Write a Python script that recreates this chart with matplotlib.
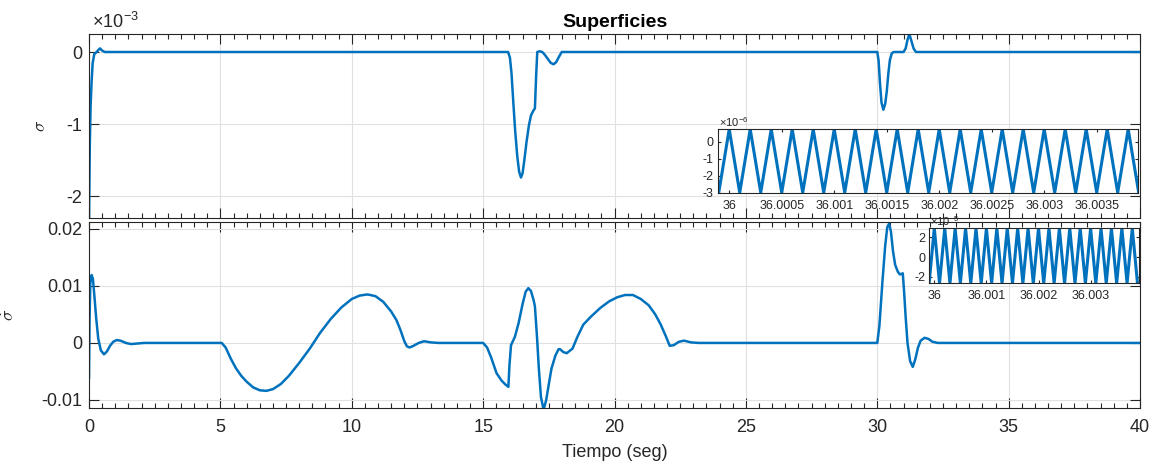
import matplotlib.pyplot as plt
from matplotlib.ticker import MultipleLocator

plt.rcParams['font.family'] = ['Liberation Sans', 'DejaVu Sans']
plt.rcParams['mathtext.fontset'] = 'cm'
plt.rcParams['axes.unicode_minus'] = False

# sigma (x 10^-3)
t_sig = [0.0, 0.03, 0.06, 0.1, 0.14, 0.2, 0.29, 0.36, 0.42, 0.5, 0.6,
         15.95, 16.02, 16.08, 16.15, 16.22, 16.3, 16.37, 16.44, 16.5, 16.56, 16.65, 16.74,
         16.82, 16.9, 16.97, 17.02, 17.06, 17.15, 17.25, 17.35, 17.45, 17.57, 17.68, 17.78,
         17.88, 17.99,
         30.0, 30.05, 30.1, 30.16, 30.23, 30.3, 30.36, 30.42, 30.48, 30.55, 30.62,
         31.0, 31.08, 31.15, 31.22, 31.3, 31.38, 31.47, 40.0]
sig = [-2.35, -1.3, -0.75, -0.4, -0.15, -0.03, 0.0, 0.03, 0.05, 0.02, 0.0,
       0.0, -0.08, -0.3, -0.71, -1.1, -1.45, -1.66, -1.74, -1.68, -1.52, -1.25, -1.02,
       -0.88, -0.82, -0.78, -0.3, 0.0, 0.01, 0.0, -0.04, -0.09, -0.15, -0.17, -0.14,
       -0.07, 0.0,
       0.0, -0.12, -0.42, -0.7, -0.80, -0.72, -0.55, -0.3, -0.11, -0.02, 0.0,
       0.0, 0.05, 0.17, 0.25, 0.15, 0.05, 0.0, 0.0]

# sigma dot
t_dsig = [0.0, 0.02, 0.05, 0.1, 0.15, 0.2, 0.27, 0.35, 0.45, 0.57, 0.68, 0.8, 0.92, 1.05,
          1.2, 1.4, 1.6, 1.85, 2.1,
          5.05, 5.2, 5.4, 5.6, 5.8, 6.0, 6.25, 6.5, 6.75, 7.0, 7.3, 7.6, 8.0, 8.4, 8.8, 9.2,
          9.6, 10.0, 10.3, 10.6, 10.9, 11.2, 11.5, 11.7, 11.85, 12.0, 12.1, 12.2, 12.35,
          12.55, 12.75, 13.0, 13.3,
          15.0, 15.15, 15.3, 15.51, 15.7, 15.85, 15.96, 16.0, 16.06, 16.21, 16.35, 16.5,
          16.62, 16.72, 16.82, 16.92, 16.97, 17.05, 17.12, 17.2, 17.3, 17.4, 17.5, 17.6,
          17.75, 17.87, 17.93, 18.05, 18.18, 18.4, 18.6, 18.81, 19.1, 19.45, 19.8, 20.1,
          20.4, 20.7, 21.0, 21.3, 21.55, 21.75, 21.95, 22.1, 22.25, 22.45, 22.65, 22.9, 23.2,
          30.0, 30.08, 30.2, 30.3, 30.38, 30.45, 30.52, 30.6, 30.68, 30.78, 30.86, 30.97,
          31.02, 31.08, 31.15, 31.25, 31.35, 31.45, 31.55, 31.65, 31.8, 31.95, 32.1, 32.3,
          40.0]
dsig = [-0.0061, 0.004, 0.0105, 0.0119, 0.0112, 0.0085, 0.0045, 0.0008, -0.0013, -0.002,
        -0.0015, -0.0005, 0.0002, 0.0005, 0.0004, 0.0, -0.0002, -0.0001, 0.0,
        0.0, -0.0008, -0.0028, -0.0045, -0.0058, -0.0068, -0.0078, -0.0083, -0.0084, -0.0081,
        -0.0072, -0.0058, -0.0035, -0.001, 0.0018, 0.0042, 0.0062, 0.0077, 0.0083, 0.0085,
        0.0082, 0.0072, 0.0055, 0.004, 0.0023, 0.0003, -0.0006, -0.0008, -0.0005, 0.0,
        0.0003, 0.0001, 0.0,
        0.0, -0.0008, -0.0025, -0.0053, -0.0066, -0.0073, -0.0077, -0.004, -0.0004, 0.0011,
        0.0035, 0.0068, 0.009, 0.0096, 0.0091, 0.0075, 0.0064, 0.001, -0.0045, -0.0095,
        -0.0117, -0.010, -0.0072, -0.0045, -0.0022, -0.0011, -0.0011, -0.0016, -0.0018,
        -0.001, 0.0012, 0.0032, 0.0046, 0.0061, 0.0073, 0.008, 0.0084, 0.0084, 0.0077,
        0.0066, 0.005, 0.0033, 0.0012, -0.0005, -0.0004, 0.0002, 0.0004, 0.0001, 0.0,
        0.0, 0.003, 0.011, 0.017, 0.0203, 0.0209, 0.0195, 0.016, 0.0137, 0.0125, 0.012,
        0.0122, 0.009, 0.0045, 0.0, -0.0032, -0.0042, -0.0028, -0.0008, 0.0004, 0.0009,
        0.0007, 0.0002, 0.0,
        0.0]

# zoomed chattering near t = 36 s
t_zoom = [35.9999, 36.0000, 36.0001, 36.0002, 36.0003, 36.0004, 36.0005, 36.0006, 36.0007,
          36.0008, 36.0009, 36.0010, 36.0011, 36.0012, 36.0013, 36.0014, 36.0015, 36.0016,
          36.0017, 36.0018, 36.0019, 36.0020, 36.0021, 36.0022, 36.0023, 36.0024, 36.0025,
          36.0026, 36.0027, 36.0028, 36.0029, 36.0030, 36.0031, 36.0032, 36.0033, 36.0034,
          36.0035, 36.0036, 36.0037, 36.0038, 36.0039]
sig_zoom = [-3.0, 0.75, -3.0, 0.75, -3.0, 0.75, -3.0, 0.75, -3.0, 0.75, -3.0, 0.75, -3.0,
            0.75, -3.0, 0.75, -3.0, 0.75, -3.0, 0.75, -3.0, 0.75, -3.0, 0.75, -3.0, 0.75,
            -3.0, 0.75, -3.0, 0.75, -3.0, 0.75, -3.0, 0.75, -3.0, 0.75, -3.0, 0.75, -3.0,
            0.75, -3.0]
dsig_zoom = [-2.65, 2.9, -2.65, 2.9, -2.65, 2.9, -2.65, 2.9, -2.65, 2.9, -2.65, 2.9, -2.65,
             2.9, -2.65, 2.9, -2.65, 2.9, -2.65, 2.9, -2.65, 2.9, -2.65, 2.9, -2.65, 2.9,
             -2.65, 2.9, -2.65, 2.9, -2.65, 2.9, -2.65, 2.9, -2.65, 2.9, -2.65, 2.9, -2.65,
             2.9, -2.65]

zoom_ticks1 = [36.0, 36.0005, 36.001, 36.0015, 36.002, 36.0025, 36.003, 36.0035]
zoom_labels1 = ['36', '36.0005', '36.001', '36.0015', '36.002', '36.0025', '36.003', '36.0035']
zoom_ticks2 = [36.0, 36.001, 36.002, 36.003]
zoom_labels2 = ['36', '36.001', '36.002', '36.003']

blue = '#0072BD'
dark = '#262626'

fig = plt.figure(figsize=(11.56, 4.75), dpi=100)
ax1 = fig.add_axes([0.0770, 0.5411, 0.9092, 0.3874])
ax2 = fig.add_axes([0.0770, 0.1411, 0.9092, 0.3916])


def style(ax, size, major, minor, pad):
    ax.tick_params(which='both', direction='in', top=True, right=True, colors=dark,
                   width=0.8, labelsize=size, pad=pad)
    ax.tick_params(which='major', length=major)
    ax.tick_params(which='minor', length=minor)
    for s in ax.spines.values():
        s.set_color(dark)
        s.set_linewidth(0.8)


for ax in (ax1, ax2):
    style(ax, 13, 7, 3.5, 5)
    ax.tick_params(axis='x', pad=8)
    ax.set_xlim(0, 40)
    ax.set_xticks([0, 5, 10, 15, 20, 25, 30, 35, 40])
    ax.xaxis.set_minor_locator(MultipleLocator(0.5))
    ax.grid(True, color='#e0e0e0', linewidth=0.8)
    ax.set_axisbelow(True)

ax1.plot(t_sig, sig, color=blue, lw=1.8)
ax1.set_ylim(-2.3, 0.25)
ax1.set_yticks([-2, -1, 0])
ax1.set_yticklabels(['-2', '-1', '0'])
ax1.tick_params(axis='x', labelbottom=False)
ax1.set_title('Superficies', fontweight='bold', fontsize=14, pad=5)
ax1.text(0.003, 1.012, r'×10$^{\mathregular{-3}}$', transform=ax1.transAxes, fontsize=13,
         color=dark, ha='left', va='bottom')
ax1.set_ylabel(r'$\sigma$', fontsize=13, color=dark)
ax1.yaxis.set_label_coords(-0.038, 0.5)

ax2.plot(t_dsig, dsig, color=blue, lw=1.8)
ax2.set_ylim(-0.0114, 0.0212)
ax2.set_yticks([-0.01, 0, 0.01, 0.02])
ax2.set_yticklabels(['-0.01', '0', '0.01', '0.02'])
ax2.set_xlabel('Tiempo (seg)', fontsize=13, color=dark, labelpad=6)
ax2.set_ylabel(r'$\dot{\sigma}$', fontsize=13, color=dark)
ax2.yaxis.set_label_coords(-0.0685, 0.5)

# insets
in1 = fig.add_axes([0.6211, 0.5945, 0.3633, 0.1335])
in1.plot(t_zoom, sig_zoom, color=blue, lw=2.2)
in1.set_xlim(35.999893, 36.003893)
in1.set_ylim(-3.0, 0.75)
in1.set_xticks(zoom_ticks1)
in1.set_xticklabels(zoom_labels1)
in1.set_yticks([-3, -2, -1, 0])
in1.set_yticklabels(['-3', '-2', '-1', '0'])
style(in1, 9, 2.5, 1.5, 3)
in1.tick_params(axis='x', pad=5)
in1.text(0.003, 1.0, r'×10$^{\mathregular{-6}}$', transform=in1.transAxes, fontsize=8,
         color=dark, ha='left', va='bottom')

in2 = fig.add_axes([0.8039, 0.4035, 0.1814, 0.1158])
in2.plot(t_zoom, dsig_zoom, color=blue, lw=2.2)
in2.set_xlim(35.999904, 36.003929)
in2.set_ylim(-2.65, 2.9)
in2.set_xticks(zoom_ticks2)
in2.set_xticklabels(zoom_labels2)
in2.set_yticks([-2, 0, 2])
in2.set_yticklabels(['-2', '0', '2'])
style(in2, 9, 2.5, 1.5, 3)
in2.tick_params(axis='x', pad=4.5)
in2.text(0.003, 1.0, r'×10$^{\mathregular{-5}}$', transform=in2.transAxes, fontsize=8,
         color=dark, ha='left', va='bottom')

fig.savefig('out.png', dpi=100)
